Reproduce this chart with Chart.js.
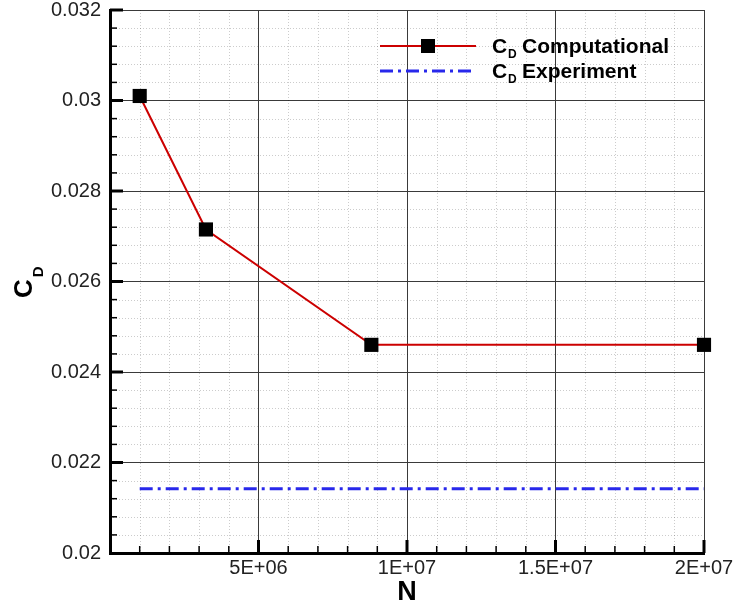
<!DOCTYPE html>
<html>
<head>
<meta charset="utf-8">
<script src="https://cdn.jsdelivr.net/npm/chart.js@4.4.1/dist/chart.umd.min.js"></script>
<style>
  html, body { margin: 0; padding: 0; background: #fff; }
  #wrap { width: 735px; height: 606px; }
</style>
</head>
<body>
<div id="wrap"><canvas id="cd" width="735" height="606"></canvas></div>
<script>
// Grid size N versus drag coefficient
const meshSizes = [1.0e6, 3.23e6, 8.8e6, 2.0e7];
const cdComputational = [0.0301, 0.02715, 0.0246, 0.0246];

// Measured drag coefficient, shown as a reference level
const experimentSpan = [1.0e6, 2.0e7];
const cdExperiment = [0.02142, 0.02142];

// Axis ticks
const xTickValues = [0, 5e6, 1e7, 1.5e7, 2e7];
const xTickLabels = ['', '5E+06', '1E+07', '1.5E+07', '2E+07'];
const yTickValues = [0.02, 0.022, 0.024, 0.026, 0.028, 0.03, 0.032];
const yTickLabels = ['0.02', '0.022', '0.024', '0.026', '0.028', '0.03', '0.032'];
const xMinorStep = 1e6;
const yMinorStep = 0.0004;

const RED = 'rgb(204,0,0)';
const BLUE = 'rgb(40,40,235)';
const EXP_DASH = [13, 5, 3, 5];
const FONT = '"Liberation Sans", Arial, Helvetica, sans-serif';

function fixedTicks(values) {
  return scale => { scale.ticks = values.map(v => ({ value: v })); };
}

function fixBox(w, h) {
  return s => {
    if (w !== null) s.width = w;
    if (h !== null) s.height = h;
    s.paddingTop = 0; s.paddingBottom = 0; s.paddingLeft = 0; s.paddingRight = 0;
  };
}

// Minor grid, inward tick marks, axis titles and the legend
const decorations = {
  id: 'decorations',
  beforeDatasetsDraw(chart) {
    const { ctx, chartArea: a, scales: { x, y } } = chart;
    ctx.save();
    ctx.strokeStyle = 'rgba(0,0,0,0.2)';
    ctx.lineWidth = 1;
    ctx.setLineDash([1, 2]);
    for (let i = 1; i < 20; i++) {
      if (i % 5 === 0) continue;
      const px = Math.round(x.getPixelForValue(i * xMinorStep)) + 0.5;
      ctx.beginPath(); ctx.moveTo(px, a.top); ctx.lineTo(px, a.bottom); ctx.stroke();
    }
    for (let i = 1; i < 30; i++) {
      if (i % 5 === 0) continue;
      const py = Math.round(y.getPixelForValue(0.02 + i * yMinorStep)) + 0.5;
      ctx.beginPath(); ctx.moveTo(a.left, py); ctx.lineTo(a.right, py); ctx.stroke();
    }
    ctx.restore();
  },
  afterDraw(chart) {
    const { ctx, chartArea: a, scales: { x, y } } = chart;
    ctx.save();
    ctx.strokeStyle = '#000';
    ctx.setLineDash([]);
    // inward ticks on the bottom axis
    for (let i = 1; i <= 20; i++) {
      const major = i % 5 === 0;
      const px = x.getPixelForValue(i * xMinorStep);
      ctx.lineWidth = major ? 3 : 1.5;
      ctx.beginPath(); ctx.moveTo(px, a.bottom); ctx.lineTo(px, a.bottom - (major ? 13 : 7)); ctx.stroke();
    }
    // inward ticks on the left axis
    for (let i = 1; i <= 30; i++) {
      const major = i % 5 === 0;
      const py = y.getPixelForValue(0.02 + i * yMinorStep);
      ctx.lineWidth = major ? 3 : 1.5;
      ctx.beginPath(); ctx.moveTo(a.left, py); ctx.lineTo(a.left + (major ? 13 : 7), py); ctx.stroke();
    }

    // x axis title
    ctx.fillStyle = '#000';
    ctx.font = 'bold 27px ' + FONT;
    ctx.textAlign = 'center';
    ctx.textBaseline = 'alphabetic';
    ctx.fillText('N', (a.left + a.right) / 2, 600);

    // y axis title C_D, rotated
    ctx.save();
    ctx.translate(32, 298);
    ctx.rotate(-Math.PI / 2);
    ctx.textAlign = 'left';
    ctx.textBaseline = 'alphabetic';
    ctx.font = 'bold 26px ' + FONT;
    ctx.fillText('C', 0, 0);
    const wC = ctx.measureText('C').width;
    ctx.font = 'bold 15px ' + FONT;
    ctx.fillText('D', wC + 2, 11);
    ctx.restore();

    // legend
    const rows = [
      { y: 46, text: 'Computational', kind: 'comp' },
      { y: 71, text: 'Experiment', kind: 'exp' }
    ];
    rows.forEach(r => {
      ctx.save();
      if (r.kind === 'comp') {
        ctx.strokeStyle = RED; ctx.lineWidth = 2;
        ctx.beginPath(); ctx.moveTo(380, r.y); ctx.lineTo(476, r.y); ctx.stroke();
        ctx.fillStyle = '#000';
        ctx.fillRect(428 - 7, r.y - 7, 14, 14);
      } else {
        ctx.strokeStyle = BLUE; ctx.lineWidth = 3;
        ctx.setLineDash(EXP_DASH);
        ctx.beginPath(); ctx.moveTo(380, r.y); ctx.lineTo(476, r.y); ctx.stroke();
      }
      ctx.restore();
      ctx.fillStyle = '#000';
      ctx.textAlign = 'left';
      ctx.textBaseline = 'alphabetic';
      const base = r.y + 7;
      ctx.font = 'bold 21px ' + FONT;
      ctx.fillText('C', 492, base);
      ctx.font = 'bold 12px ' + FONT;
      ctx.fillText('D', 508, base + 5);
      ctx.font = 'bold 21px ' + FONT;
      ctx.fillText(r.text, 522, base);
    });
    ctx.restore();
  }
};

new Chart(document.getElementById('cd'), {
  type: 'line',
  data: {
    datasets: [
      {
        label: 'CD Computational',
        data: meshSizes.map((n, i) => ({ x: n, y: cdComputational[i] })),
        borderColor: RED,
        borderWidth: 2,
        pointStyle: 'rect',
        pointRadius: 10,
        pointBackgroundColor: '#000',
        pointBorderColor: '#000',
        pointBorderWidth: 0,
        tension: 0,
        clip: false,
        order: 1
      },
      {
        label: 'CD Experiment',
        data: experimentSpan.map((n, i) => ({ x: n, y: cdExperiment[i] })),
        borderColor: BLUE,
        borderWidth: 3,
        borderDash: EXP_DASH,
        pointRadius: 0,
        tension: 0,
        clip: false,
        order: 2
      }
    ]
  },
  options: {
    responsive: false,
    animation: false,
    devicePixelRatio: 1,
    layout: { autoPadding: false, padding: { left: 0, right: 31, top: 10, bottom: 0 } },
    plugins: { legend: { display: false }, tooltip: { enabled: false } },
    scales: {
      x: {
        type: 'linear',
        min: 0, max: 2e7,
        afterBuildTicks: fixedTicks(xTickValues),
        afterFit: fixBox(null, 53),
        grid: { color: '#3a3a3a', lineWidth: 1, drawTicks: false },
        border: { color: '#000', width: 3 },
        ticks: {
          padding: 3,
          maxRotation: 0,
          autoSkip: false,
          color: '#222',
          font: { family: FONT, size: 20 },
          callback: v => xTickLabels[xTickValues.indexOf(v)] ?? ''
        }
      },
      y: {
        type: 'linear',
        min: 0.02, max: 0.032,
        afterBuildTicks: fixedTicks(yTickValues),
        afterFit: fixBox(110, null),
        grid: { color: '#3a3a3a', lineWidth: 1, drawTicks: false },
        border: { color: '#000', width: 3 },
        ticks: {
          padding: 9,
          autoSkip: false,
          color: '#222',
          font: { family: FONT, size: 20 },
          callback: v => {
            const i = yTickValues.findIndex(t => Math.abs(t - v) < 1e-9);
            return i >= 0 ? yTickLabels[i] : '';
          }
        }
      }
    }
  },
  plugins: [decorations]
});
</script>
</body>
</html>
